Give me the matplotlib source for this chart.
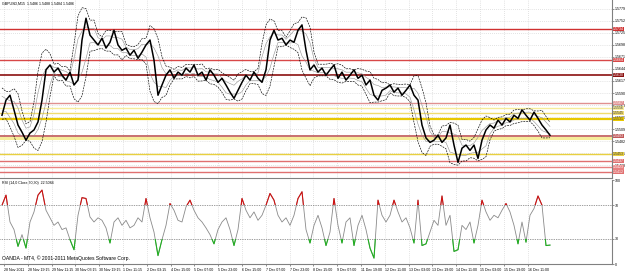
import numpy as np
import pandas as pd
import matplotlib
matplotlib.use("Agg")
import matplotlib.pyplot as plt
from matplotlib.transforms import blended_transform_factory
from matplotlib.patches import Rectangle

plt.rcParams["font.family"] = ["Liberation Sans", "DejaVu Sans"]

# ---------------- data (one sample ~ every 11 bars) ----------------
close = [1.5540, 1.5574, 1.5585, 1.5552, 1.5518, 1.5502, 1.5484, 1.5500, 1.5507, 1.5525,
         1.5574, 1.5642, 1.5653, 1.5637, 1.5646, 1.5630, 1.5619, 1.5637, 1.5608, 1.5619,
         1.5709, 1.5758, 1.5720, 1.5709, 1.5698, 1.5713, 1.5691, 1.5704, 1.5731, 1.5698,
         1.5686, 1.5691, 1.5675, 1.5686, 1.5668, 1.5682, 1.5698, 1.5709, 1.5664, 1.5585,
         1.5608, 1.5630, 1.5642, 1.5623, 1.5637, 1.5630, 1.5646, 1.5637, 1.5653, 1.5630,
         1.5637, 1.5619, 1.5642, 1.5630, 1.5614, 1.5623, 1.5608, 1.5592, 1.5578, 1.5596,
         1.5614, 1.5630, 1.5619, 1.5637, 1.5623, 1.5614, 1.5642, 1.5709, 1.5731, 1.5709,
         1.5713, 1.5698, 1.5709, 1.5704, 1.5731, 1.5743, 1.5686, 1.5642, 1.5653, 1.5637,
         1.5646, 1.5630, 1.5642, 1.5653, 1.5623, 1.5637, 1.5619, 1.5630, 1.5642, 1.5623,
         1.5630, 1.5608, 1.5619, 1.5585, 1.5574, 1.5596, 1.5601, 1.5608, 1.5592, 1.5601,
         1.5585, 1.5596, 1.5608, 1.5585, 1.5574, 1.5518, 1.5489, 1.5479, 1.5484, 1.5495,
         1.5479, 1.5489, 1.5518, 1.5473, 1.5434, 1.5466, 1.5473, 1.5461, 1.5473, 1.5443,
         1.5484, 1.5507, 1.5518, 1.5511, 1.5529, 1.5518, 1.5533, 1.5525, 1.5540, 1.5533,
         1.5552, 1.5540, 1.5529, 1.5547, 1.5533, 1.5518, 1.5507, 1.5495]

rsi = [70, 82, 50, 41, 21, 35, 19, 50, 62, 82,
       88, 64, 55, 46, 50, 41, 43, 29, 17, 58,
       79, 78, 56, 50, 55, 52, 43, 25, 50, 55,
       46, 52, 43, 46, 55, 50, 78, 55, 38, 10,
       29, 46, 72, 64, 52, 50, 68, 76, 64, 55,
       50, 43, 35, 24, 41, 50, 55, 41, 22, 41,
       78, 64, 55, 62, 52, 58, 70, 84, 76, 58,
       50, 55, 46, 58, 78, 86, 41, 25, 46, 58,
       43, 22, 38, 78, 46, 25, 50, 55, 22, 46,
       58, 41, 19, 7, 76, 58, 50, 58, 76, 62,
       50, 55, 43, 25, 76, 22, 24, 38, 52, 46,
       81, 46, 58, 15, 17, 46, 41, 50, 25, 46,
       76, 62, 52, 58, 55, 64, 72, 62, 46, 24,
       50, 26, 58, 66, 81, 70, 22, 22.5]

price_ticks = [1.5779, 1.5752, 1.5725, 1.5698, 1.5671, 1.5644, 1.5617,
               1.5590, 1.5563, 1.5536, 1.5509, 1.5482, 1.5455, 1.5428]

# horizontal levels with a price box on the right
levels = [1.5734, 1.5664, 1.5630, 1.5567, 1.5556, 1.5545, 1.5531,
          1.5493, 1.5453, 1.5437, 1.5423, 1.5412]
level_colors = ["#d03030", "#d84848", "#8b1010", "#e09090", "#f6ec9a", "#f0dc70", "#e8c800",
                "#c05858", "#e8d040", "#e07070", "#e88080", "#e07070"]
level_widths = [1.0, 1.0, 1.2, 1.0, 1.0, 1.0, 1.6, 1.2, 1.0, 1.0, 1.0, 1.0]
level_text = ["white", "white", "white", "white", "#404040", "#404040", "#404040",
              "white", "#404040", "white", "white", "white"]
# halo level drawn without its own box
halo_level = 1.5489
halo_color = "#f6ec9a"

time_labels = ["28 Nov 2011", "28 Nov 19:15", "29 Nov 11:15", "30 Nov 03:15", "30 Nov 19:15",
               "1 Dec 11:15", "2 Dec 03:15", "4 Dec 15:00", "5 Dec 07:00", "5 Dec 23:00",
               "6 Dec 15:00", "7 Dec 07:00", "7 Dec 23:00", "8 Dec 15:00", "9 Dec 07:00",
               "11 Dec 19:00", "12 Dec 11:00", "13 Dec 03:00", "13 Dec 19:00", "14 Dec 11:00",
               "15 Dec 03:00", "15 Dec 19:00", "16 Dec 11:00"]

title = "GBPUSD,M15  1.5486 1.5488 1.5484 1.5486"
rsi_title = "RSI (14,0 Close,70,30)  22.5084"
copyright_text = "OANDA - MT4, \u00a9 2001-2011 MetaQuotes Software Corp."

# ---------------- figure ----------------
W, H = 625, 273
fig = plt.figure(figsize=(W / 100, H / 100), dpi=100)
fig.patch.set_facecolor("white")


def ax_px(x0, y0, x1, y1):
    return fig.add_axes([x0 / W, 1 - y1 / H, (x1 - x0) / W, (y1 - y0) / H])


main = ax_px(0, 0, 612, 178)
rsax = ax_px(0, 180, 612, 264)

n = len(close)
x = np.arange(n)
tick_pos = 0.5 + np.arange(len(time_labels)) * 5.95

GRID = "#c8c8c8"
FS = 2.6

for ax in (main, rsax):
    ax.set_xlim(-0.5, 152.5)
    for sp in ("top", "left"):
        ax.spines[sp].set_visible(False)
    for sp in ("right", "bottom"):
        ax.spines[sp].set_color("#808080")
        ax.spines[sp].set_linewidth(0.8)
    ax.yaxis.tick_right()
    ax.tick_params(axis="y", length=1.5, width=0.5, color="#606060", labelsize=FS, pad=0.8)
    for tp in tick_pos:
        ax.axvline(tp, color=GRID, lw=0.5, ls=(0, (1, 2)), zorder=0)

# ---- main price panel ----
main.set_ylim(1.5399, 1.5799)
main.set_yticks(price_ticks)
main.set_yticklabels([f"{p:.4f}" for p in price_ticks])
main.set_xticks([])
for p in price_ticks:
    main.axhline(p, color=GRID, lw=0.5, ls=(0, (1, 2)), zorder=0)

main.axhline(halo_level, color=halo_color, lw=2.2, zorder=1)
for lv, c, w in zip(levels, level_colors, level_widths):
    main.axhline(lv, color=c, lw=w, zorder=1)

s = pd.Series(close)
mid = s.rolling(5, center=True, min_periods=1).mean()
sd = s.rolling(5, center=True, min_periods=1).std().fillna(0)
main.plot(x, mid + 1.5 * sd, color="black", lw=0.45, dashes=(3, 1.5), zorder=2)
main.plot(x, mid - 1.5 * sd, color="black", lw=0.45, dashes=(3, 1.5), zorder=2)
main.plot(x, mid + 0.7 * sd, color="#909090", lw=0.4, zorder=2)
main.plot(x, mid - 0.7 * sd, color="#909090", lw=0.4, zorder=2)
main.plot(x, close, color="black", lw=1.1, zorder=3)

tr = blended_transform_factory(main.transAxes, main.transData)
for lv, c, tc in zip(levels, level_colors, level_text):
    main.text(1.002, lv, f"{lv:.4f}", transform=tr, fontsize=FS, color=tc,
              va="center", ha="left", clip_on=False, zorder=5,
              bbox=dict(boxstyle="square,pad=0.05", fc=c, ec="none"))

main.text(0.004, 0.99, title, transform=main.transAxes, fontsize=FS,
          va="top", ha="left", color="black")

# ---- RSI panel ----
rsax.set_ylim(0, 100)
rsax.set_yticks([100, 70, 30, 0])
rsax.set_yticklabels(["100", "70", "30", "0"])
rsax.axhline(70, color="#404040", lw=0.5, ls=(0, (1, 1.5)))
rsax.axhline(30, color="#404040", lw=0.5, ls=(0, (1, 1.5)))
rsax.plot(x, rsi, color="#8a8a8a", lw=0.6, zorder=2)
ln_hi, = rsax.plot(x, rsi, color="#d01010", lw=0.8, zorder=3)
ln_lo, = rsax.plot(x, rsi, color="#20b020", lw=0.8, zorder=3)
clip_hi = Rectangle((-1, 70), 200, 40, transform=rsax.transData)
clip_lo = Rectangle((-1, -10), 200, 40, transform=rsax.transData)
ln_hi.set_clip_path(clip_hi)
ln_lo.set_clip_path(clip_lo)

rsax.set_xticks(tick_pos)
rsax.set_xticklabels(time_labels, ha="left")
rsax.tick_params(axis="x", length=1.5, width=0.5, color="#606060", labelsize=FS, pad=1.5)

rsax.text(0.004, 0.985, rsi_title, transform=rsax.transAxes, fontsize=FS,
          va="top", ha="left", color="black")
rsax.text(0.004, 0.03, copyright_text, transform=rsax.transAxes, fontsize=FS + 1.0,
          va="bottom", ha="left", color="black")

fig.savefig("out.png", dpi=100, facecolor="white")
